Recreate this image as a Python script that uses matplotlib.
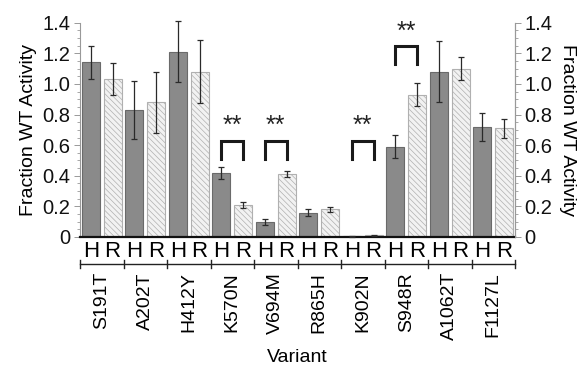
import numpy as np
import matplotlib.pyplot as plt
from matplotlib.ticker import MultipleLocator, FuncFormatter
import matplotlib.transforms as mtransforms

# data
variants = ['S191T', 'A202T', 'H412Y', 'K570N', 'V694M', 'R865H', 'K902N', 'S948R', 'A1062T', 'F1127L']
h_vals = [1.14, 0.83, 1.21, 0.42, 0.10, 0.16, 0.005, 0.59, 1.08, 0.72]
h_err = [0.11, 0.19, 0.20, 0.038, 0.02, 0.02, 0.003, 0.075, 0.20, 0.09]
r_vals = [1.03, 0.88, 1.08, 0.21, 0.41, 0.18, 0.012, 0.93, 1.10, 0.71]
r_err = [0.105, 0.20, 0.205, 0.02, 0.02, 0.015, 0.004, 0.073, 0.077, 0.06]
sig_idx = [3, 4, 6, 7]
sig_low = [0.51, 0.51, 0.51, 1.13]

plt.rcParams['font.family'] = ['Liberation Sans', 'DejaVu Sans']
plt.rcParams['hatch.linewidth'] = 0.5

fig = plt.figure(figsize=(5.85, 3.72), dpi=100)
ax = fig.add_axes([80/585, 1-237/372, 435/585, (237-22.7)/372])

x = np.arange(len(variants))
w = 0.41
ax.bar(x - 0.25, h_vals, w, color='#8a8a8a', edgecolor='#6a6a6a', linewidth=0.8, zorder=2)
plt.rcParams['hatch.color'] = '#a8a8a8'
ax.bar(x + 0.25, r_vals, w, color='#f2f2f2', edgecolor='#b0b0b0', linewidth=0.8,
       hatch='\\\\\\\\\\\\', zorder=2)
ax.errorbar(x - 0.25, h_vals, yerr=h_err, fmt='none', ecolor='#2a2a2a', elinewidth=0.9,
            capsize=2, capthick=0.9, zorder=3, clip_on=False)
ax.errorbar(x + 0.25, r_vals, yerr=r_err, fmt='none', ecolor='#2a2a2a', elinewidth=0.9,
            capsize=2, capthick=0.9, zorder=3, clip_on=False)

# significance brackets
for i, y1 in zip(sig_idx, sig_low):
    y2 = y1 + 0.12
    ax.plot([i - 0.25, i - 0.25, i + 0.25, i + 0.25], [y1, y2, y2, y1], color='#1a1a1a',
            lw=2.2, solid_joinstyle='miter', zorder=3)
    ax.text(i, y2 + 0.015, '**', ha='center', va='bottom', fontsize=18, color='#222222')

ax.set_xlim(-0.5, len(variants) - 0.5)
ax.set_ylim(0, 1.4)

fmt = FuncFormatter(lambda v, p: '0' if abs(v) < 1e-9 else '%.1f' % v)
ax.yaxis.set_major_locator(MultipleLocator(0.2))
ax.yaxis.set_minor_locator(MultipleLocator(0.05))
ax.yaxis.set_major_formatter(fmt)
ax.tick_params(axis='y', labelsize=14.5, colors='#999999', labelcolor='#111111', length=4, width=0.7, pad=3)
ax.tick_params(axis='y', which='minor', colors='#999999', length=2.5, width=0.6)

hr_pos = np.concatenate([x - 0.25, x + 0.25])
hr_lab = ['H'] * len(x) + ['R'] * len(x)
ax.set_xticks(hr_pos)
ax.set_xticklabels(hr_lab, fontsize=16)
ax.tick_params(axis='x', length=0, pad=3)

ax.spines['top'].set_visible(False)
ax.spines['left'].set_color('#999999')
ax.spines['left'].set_linewidth(0.8)
ax.spines['right'].set_color('#999999')
ax.spines['right'].set_linewidth(0.8)
ax.spines['bottom'].set_color('#111111')
ax.spines['bottom'].set_linewidth(1.6)

ax.set_ylabel('Fraction WT Activity', fontsize=14, labelpad=4)

ax2 = ax.twinx()
ax2.set_ylim(0, 1.4)
ax2.yaxis.set_major_locator(MultipleLocator(0.2))
ax2.yaxis.set_minor_locator(MultipleLocator(0.05))
ax2.yaxis.set_major_formatter(fmt)
ax2.tick_params(axis='y', labelsize=14.5, colors='#999999', labelcolor='#111111', length=4, width=0.7, pad=3)
ax2.tick_params(axis='y', which='minor', colors='#999999', length=2.5, width=0.6)
for s in ['top', 'left', 'bottom']:
    ax2.spines[s].set_visible(False)
ax2.spines['right'].set_color('#999999')
ax2.spines['right'].set_linewidth(0.8)
ax2.set_ylabel('Fraction WT Activity', fontsize=14, rotation=-90, labelpad=17)

# group bracket line below the H/R labels
trans = mtransforms.blended_transform_factory(ax.transData, ax.transAxes)
yb = -(264 - 237) / 214.3
ax.plot([-0.5, len(variants) - 0.5], [yb, yb], color='#222222', lw=1.0,
        transform=trans, clip_on=False)
for b in np.arange(-0.5, len(variants), 1.0):
    ax.plot([b, b], [yb - 0.02, yb + 0.02], color='#222222', lw=1.0,
            transform=trans, clip_on=False)
for i, v in enumerate(variants):
    ax.text(i, -(272 - 237) / 214.3, v, rotation=90, ha='center', va='top',
            fontsize=14, transform=trans)

fig.text(297.5/585, 1 - 357/372, 'Variant', ha='center', va='center', fontsize=14)

fig.savefig('out.png', dpi=100)
